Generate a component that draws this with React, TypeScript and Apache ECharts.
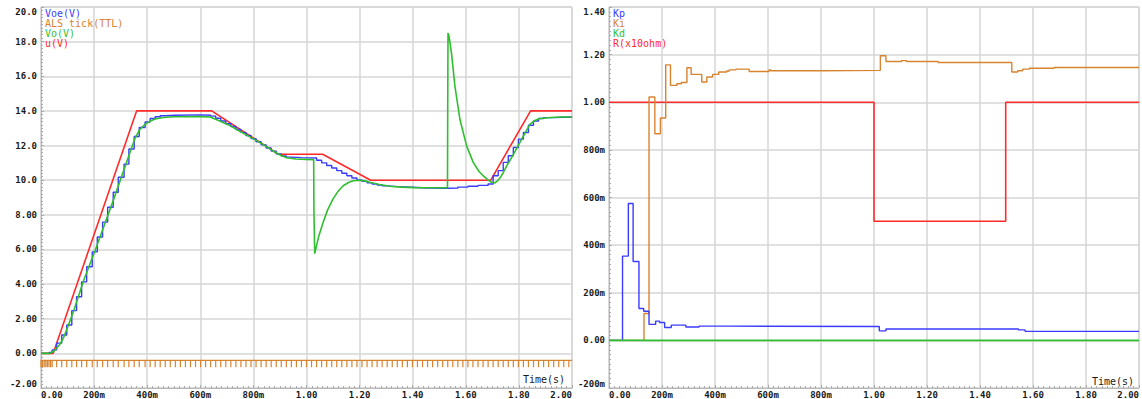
import React, { useEffect, useRef } from "react";
import * as echarts from "echarts";

// ---------- Left chart data (time in s, value in V) ----------
const uData: number[][] = [
  [0, 0], [0.046, 0], [0.36, 14], [0.643, 14], [0.894, 11.5], [1.061, 11.5],
  [1.242, 10], [1.694, 10], [1.844, 14], [2.0, 14],
];

const voeData: number[][] = [
  [0, 0], [0.03, 0.05], [0.042, 0.2], [0.059, 0.59], [0.078, 1.06], [0.097, 1.64],
  [0.116, 2.47], [0.134, 3.27], [0.153, 4.13], [0.172, 5.0], [0.193, 5.86],
  [0.212, 6.72], [0.232, 7.58], [0.251, 8.44], [0.272, 9.3], [0.291, 10.17],
  [0.313, 10.93], [0.331, 11.8], [0.351, 12.52], [0.37, 13.04], [0.392, 13.36],
  [0.411, 13.56], [0.43, 13.66], [0.449, 13.72], [0.468, 13.75], [0.506, 13.77],
  [0.601, 13.75], [0.639, 13.7], [0.658, 13.58], [0.677, 13.42], [0.696, 13.26],
  [0.715, 13.1], [0.734, 12.93], [0.753, 12.76], [0.772, 12.58], [0.791, 12.4],
  [0.81, 12.22], [0.829, 12.04], [0.848, 11.86], [0.867, 11.68], [0.886, 11.52],
  [0.905, 11.4], [0.924, 11.33], [0.943, 11.3], [0.981, 11.28], [1.038, 11.15],
  [1.057, 11.0], [1.076, 10.85], [1.095, 10.7], [1.114, 10.55], [1.133, 10.4],
  [1.152, 10.26], [1.171, 10.13], [1.19, 10.02], [1.209, 9.93], [1.228, 9.85],
  [1.247, 9.78], [1.266, 9.72], [1.285, 9.67], [1.304, 9.63], [1.342, 9.59],
  [1.399, 9.55], [1.456, 9.53], [1.532, 9.55], [1.57, 9.6], [1.608, 9.65],
  [1.646, 9.7], [1.684, 9.78], [1.703, 10.26], [1.722, 10.55], [1.741, 11.03],
  [1.76, 11.41], [1.779, 11.89], [1.798, 12.37], [1.817, 12.75], [1.836, 13.17],
  [1.855, 13.42], [1.874, 13.56], [1.893, 13.61], [1.931, 13.65], [2.0, 13.66],
];

const voData: number[][] = [
  [0, 0], [0.034, 0], [0.05, 0.15], [0.07, 0.5], [0.084, 0.87], [0.1, 1.5],
  [0.122, 2.4], [0.159, 4.13], [0.21, 6.2], [0.272, 8.82], [0.335, 11.6],
  [0.355, 12.45], [0.373, 12.94], [0.39, 13.2], [0.41, 13.4], [0.43, 13.53],
  [0.46, 13.62], [0.5, 13.66], [0.6, 13.67], [0.636, 13.65], [0.66, 13.5],
  [0.69, 13.3], [0.712, 13.15], [0.745, 12.85], [0.775, 12.6], [0.81, 12.3],
  [0.837, 12.05], [0.865, 11.78], [0.894, 11.5], [0.925, 11.3], [0.96, 11.22],
  [1.0, 11.2], [1.027, 11.18], [1.028, 8.2], [1.031, 5.76], [1.045, 6.7],
  [1.063, 7.58], [1.08, 8.3], [1.1, 8.92], [1.12, 9.38], [1.138, 9.68],
  [1.16, 9.88], [1.176, 9.97], [1.2, 10.0], [1.22, 9.96], [1.238, 9.88],
  [1.27, 9.77], [1.314, 9.65], [1.36, 9.6], [1.402, 9.57], [1.5, 9.56],
  [1.531, 9.56], [1.532, 14.5], [1.533, 18.5], [1.537, 18.3], [1.546, 17.35],
  [1.559, 15.43], [1.578, 13.5], [1.603, 11.98], [1.628, 11.03], [1.65, 10.5],
  [1.665, 10.26], [1.685, 10.0], [1.697, 9.88], [1.71, 9.84], [1.725, 10.05],
  [1.74, 10.4], [1.754, 10.83], [1.78, 11.5], [1.804, 12.18], [1.825, 12.78],
  [1.842, 13.23], [1.86, 13.45], [1.879, 13.56], [1.92, 13.62], [1.96, 13.65],
  [2.0, 13.65],
];

const alsTickTimes: number[] = [
  0.0, 0.006, 0.012, 0.018, 0.024, 0.03, 0.036, 0.042, 0.059, 0.078, 0.097,
  0.116, 0.134, 0.153, 0.172, 0.193, 0.212, 0.232, 0.251, 0.272, 0.291, 0.313,
  0.331, 0.351, 0.37, 0.392, 0.411, 0.43, 0.449, 0.468, 0.487, 0.506, 0.525,
  0.544, 0.563, 0.582, 0.601, 0.62, 0.639, 0.658, 0.677, 0.696, 0.715, 0.734,
  0.753, 0.772, 0.791, 0.81, 0.829, 0.848, 0.867, 0.886, 0.905, 0.924, 0.943,
  0.962, 0.981, 1.0, 1.019, 1.038, 1.057, 1.076, 1.095, 1.114, 1.133, 1.152,
  1.171, 1.19, 1.209, 1.228, 1.247, 1.266, 1.285, 1.304, 1.323, 1.342, 1.361,
  1.38, 1.399, 1.418, 1.437, 1.456, 1.475, 1.494, 1.513, 1.532, 1.551, 1.57,
  1.589, 1.608, 1.627, 1.646, 1.665, 1.684, 1.703, 1.722, 1.741, 1.76, 1.779,
  1.798, 1.817, 1.836, 1.855, 1.874, 1.893, 1.912, 1.931, 1.95, 1.969, 1.988,
];
const alsHigh = -0.4;
const alsLow = -0.8;

// ---------- Right chart data ----------
const kpData: number[][] = [
  [0, 0], [0.051, 0.354], [0.073, 0.575], [0.091, 0.331], [0.113, 0.134],
  [0.131, 0.122], [0.151, 0.067], [0.176, 0.081], [0.191, 0.075], [0.21, 0.054],
  [0.235, 0.064], [0.29, 0.056], [0.34, 0.06], [0.45, 0.058], [1.02, 0.04],
  [1.045, 0.048], [1.545, 0.044], [1.57, 0.038], [2.0, 0.038],
];

const kiData: number[][] = [
  [0, 0], [0.132, 0.113], [0.151, 1.022], [0.173, 0.868], [0.194, 0.934],
  [0.214, 1.157], [0.232, 1.071], [0.256, 1.078], [0.273, 1.083], [0.294, 1.145],
  [0.31, 1.117], [0.35, 1.085], [0.369, 1.106], [0.391, 1.117], [0.414, 1.127],
  [0.444, 1.131], [0.454, 1.136], [0.479, 1.139], [0.529, 1.129], [0.604, 1.136],
  [0.61, 1.132], [0.754, 1.132], [0.8, 1.134], [1.024, 1.195], [1.045, 1.171],
  [1.104, 1.175], [1.123, 1.171], [1.242, 1.167], [1.52, 1.127], [1.542, 1.132],
  [1.561, 1.139], [1.586, 1.143], [1.68, 1.146], [2.0, 1.146],
];

const kdData: number[][] = [[0, 0], [2.0, 0]];

const rData: number[][] = [[0, 1.0], [1.0, 0.5], [1.497, 1.0], [2.0, 1.0]];

const leftLegend = ["Voe(V)", "ALS tick(TTL)", "Vo(V)", "u(V)"];
const rightLegend = ["Kp", "Ki", "Kd", "R(x10ohm)"];

const BLUE = "#3b3bff";
const ORANGE = "#d8832f";
const GREEN = "#2fbf2f";
const RED = "#ff2a2a";
const legendColors = [BLUE, ORANGE, GREEN, RED];

const FONT = "DejaVu Sans Mono";

const xFmt = (v: number) => {
  if (Math.abs(v) < 1e-9) return "0.00";
  if (v < 0.999) return Math.round(v * 1000) + "m";
  return v.toFixed(2);
};
const leftYFmt = (v: number) =>
  Math.abs(v) >= 9.999 ? v.toFixed(1) : v.toFixed(2);
const rightYFmt = (v: number) => {
  if (Math.abs(v) < 1e-9) return "0.00";
  if (Math.abs(v) < 0.999) return Math.round(v * 1000) + "m";
  return v.toFixed(2);
};

export default function App() {
  const ref = useRef<HTMLDivElement>(null);

  useEffect(() => {
    if (!ref.current) return;
    const chart = echarts.init(ref.current, undefined, { renderer: "svg" });

    const alsData: number[][] = [];
    alsTickTimes.forEach((t) => {
      alsData.push([t, alsHigh], [t, alsLow], [t, alsHigh]);
    });
    alsData.push([2.0, alsHigh]);

    const gridStyle = {
      show: true,
      borderColor: "#c4c4c4",
      borderWidth: 1,
      backgroundColor: "#fff",
    };
    const axisLabelBase = {
      fontFamily: FONT,
      fontSize: 9,
      fontWeight: "bold" as const,
      color: "#1a1a1a",
    };
    const splitLine = { show: true, lineStyle: { color: "#d6d6d6", width: 1.5 } };
    const axisLine = { show: true, onZero: false, lineStyle: { color: "#b8b8b8", width: 1 } };
    const minorTick = {
      show: true,
      splitNumber: 10,
      length: 2,
      lineStyle: { color: "#aaaaaa" },
    };
    const axisTick = { show: true, inside: true, length: 3, lineStyle: { color: "#aaaaaa" } };

    const mkX = (gridIndex: number) => ({
      type: "value" as const,
      gridIndex,
      min: 0,
      max: 2,
      interval: 0.2,
      axisLine,
      axisTick,
      minorTick,
      splitLine,
      axisLabel: {
        ...axisLabelBase,
        margin: 2,
        formatter: xFmt,
        alignMinLabel: "left",
        alignMaxLabel: "right",
      },
    });

    const legendTexts = (x: number, labels: string[]) =>
      labels.map((s, i) => ({
        type: "text",
        left: x,
        top: 8 + i * 10,
        style: {
          text: s,
          fill: legendColors[i],
          font: `10px "${FONT}"`,
        },
        z: 100,
      }));

    chart.setOption({
      animation: false,
      backgroundColor: "#ffffff",
      grid: [
        { left: 41, top: 7, width: 531, height: 383, ...gridStyle },
        { left: 609, top: 7, width: 532, height: 383, ...gridStyle },
      ],
      xAxis: [mkX(0), mkX(1)],
      yAxis: [
        {
          type: "value",
          gridIndex: 0,
          min: -2,
          max: 20,
          interval: 2,
          axisLine,
          axisTick,
          minorTick,
          splitLine,
          axisLabel: {
            ...axisLabelBase,
            margin: 4,
            formatter: leftYFmt,
            verticalAlignMaxLabel: "top",
            verticalAlignMinLabel: "bottom",
          },
        },
        {
          type: "value",
          gridIndex: 1,
          min: -0.2,
          max: 1.4,
          interval: 0.2,
          axisLine,
          axisTick,
          minorTick,
          splitLine,
          axisLabel: {
            ...axisLabelBase,
            margin: 4,
            formatter: rightYFmt,
            verticalAlignMaxLabel: "top",
            verticalAlignMinLabel: "bottom",
          },
        },
      ],
      graphic: [
        ...legendTexts(45, leftLegend),
        ...legendTexts(613, rightLegend),
        {
          type: "text",
          left: 523,
          top: 374,
          style: { text: "Time(s)", fill: "#1a1a1a", font: `10px "${FONT}"` },
          z: 100,
        },
        {
          type: "text",
          left: 1092,
          top: 376,
          style: { text: "Time(s)", fill: "#1a1a1a", font: `10px "${FONT}"` },
          z: 100,
        },
      ],
      series: [
        {
          name: "ALS tick(TTL)",
          type: "line",
          xAxisIndex: 0,
          yAxisIndex: 0,
          data: alsData,
          showSymbol: false,
          lineStyle: { color: ORANGE, width: 1.2 },
          z: 2,
        },
        {
          name: "u(V)",
          type: "line",
          xAxisIndex: 0,
          yAxisIndex: 0,
          data: uData,
          showSymbol: false,
          lineStyle: { color: RED, width: 1.6 },
          z: 3,
        },
        {
          name: "Voe(V)",
          type: "line",
          xAxisIndex: 0,
          yAxisIndex: 0,
          data: voeData,
          step: "end",
          showSymbol: false,
          lineStyle: { color: BLUE, width: 1.4 },
          z: 4,
        },
        {
          name: "Vo(V)",
          type: "line",
          xAxisIndex: 0,
          yAxisIndex: 0,
          data: voData,
          showSymbol: false,
          lineStyle: { color: GREEN, width: 1.6 },
          z: 5,
        },
        {
          name: "R(x10ohm)",
          type: "line",
          xAxisIndex: 1,
          yAxisIndex: 1,
          data: rData,
          step: "end",
          showSymbol: false,
          lineStyle: { color: RED, width: 1.6 },
          z: 3,
        },
        {
          name: "Ki",
          type: "line",
          xAxisIndex: 1,
          yAxisIndex: 1,
          data: kiData,
          step: "end",
          showSymbol: false,
          lineStyle: { color: ORANGE, width: 1.4 },
          z: 4,
        },
        {
          name: "Kp",
          type: "line",
          xAxisIndex: 1,
          yAxisIndex: 1,
          data: kpData,
          step: "end",
          showSymbol: false,
          lineStyle: { color: BLUE, width: 1.4 },
          z: 5,
        },
        {
          name: "Kd",
          type: "line",
          xAxisIndex: 1,
          yAxisIndex: 1,
          data: kdData,
          showSymbol: false,
          lineStyle: { color: GREEN, width: 1.6 },
          z: 6,
        },
      ],
    });

    return () => chart.dispose();
  }, []);

  return (
    <div
      ref={ref}
      style={{ position: "absolute", left: 0, top: 0, width: 1142, height: 399 }}
    />
  );
}
